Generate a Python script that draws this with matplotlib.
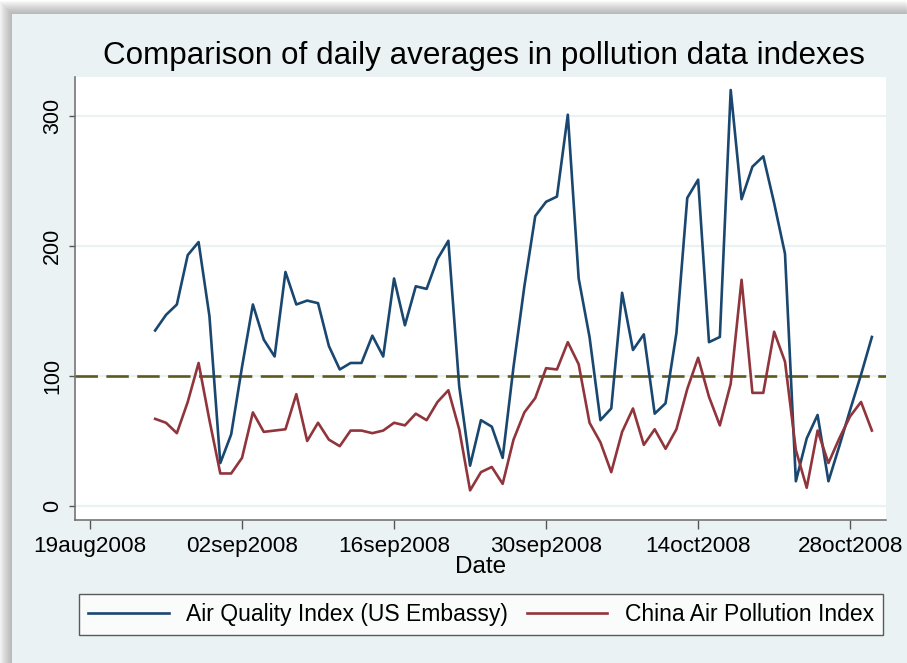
import pandas as pd
import matplotlib
matplotlib.use("Agg")
import matplotlib.pyplot as plt
from matplotlib.patches import Rectangle

plt.rcParams['font.family'] = ['Liberation Sans', 'DejaVu Sans']

# daily averages, 25aug2008 .. 30oct2008
start_date = "2008-08-25"
aqi_us_embassy = [135, 147, 155, 193, 203, 146, 33, 55, 107, 155, 128, 115, 180,
                  155, 158, 156, 123, 105, 110, 110, 131, 115, 175, 139, 169, 167,
                  190, 204, 92, 31, 66, 61, 37, 107, 169, 223, 234, 238, 301, 175,
                  130, 66, 75, 164, 120, 132, 71, 79, 133, 237, 251, 126, 130, 320,
                  236, 261, 269, 233, 194, 19, 52, 70, 19, 46, 74, 101, 130]
china_api = [67, 64, 56, 80, 110, 66, 25, 25, 37, 72, 57, 58, 59,
             86, 50, 64, 51, 46, 58, 58, 56, 58, 64, 62, 71, 66,
             80, 89, 59, 12, 26, 30, 17, 51, 72, 83, 106, 105, 126, 109,
             64, 49, 26, 57, 75, 47, 59, 44, 59, 90, 114, 84, 62, 94,
             174, 87, 87, 134, 111, 43, 14, 58, 33, 52, 69, 80, 58]
reference_level = 100

tick_dates = ["2008-08-19", "2008-09-02", "2008-09-16", "2008-09-30", "2008-10-14", "2008-10-28"]
tick_labels = ["19aug2008", "02sep2008", "16sep2008", "30sep2008", "14oct2008", "28oct2008"]
y_ticks = [0, 100, 200, 300]

dates = pd.date_range(start_date, periods=len(aqi_us_embassy), freq="D")
ticks = pd.to_datetime(tick_dates)

W, H = 907, 663
fig = plt.figure(figsize=(W / 100, H / 100), dpi=100, facecolor="white")

# soft shadow + stata-like panel
px, py = 12 / W, 14 / H
for i in range(13, 0, -1):
    fig.patches.append(Rectangle((px - i / W, 0), 1, 1 - py + i / H,
                                 transform=fig.transFigure, facecolor="#606060",
                                 alpha=0.04, edgecolor="none", zorder=-5))
fig.patches.append(Rectangle((px, 0), 1, 1 - py, transform=fig.transFigure,
                             facecolor="#eaf2f3", edgecolor="none", zorder=-4))

ax = fig.add_axes([75 / W, 1 - 520 / H, (886 - 75) / W, (520 - 77) / H])
ax.set_zorder(2)
ax.set_facecolor("white")

for y in y_ticks:
    ax.axhline(y, color="#eaf2f3", lw=1.6, zorder=1)

ax.plot(dates, aqi_us_embassy, color="#1a476f", lw=1.9, zorder=3,
        label="Air Quality Index (US Embassy)")
ax.plot(dates, china_api, color="#90353b", lw=1.9, zorder=3,
        label="China Air Pollution Index")
ax.axhline(reference_level, color="#5e5a1e", lw=1.9, ls=(0, (8.5, 3.2)), zorder=2)

ax.set_ylim(-10.8, 330)
ax.set_xlim(ticks[0] - pd.Timedelta(days=1.38), ticks[0] + pd.Timedelta(days=73.3))
ax.set_yticks(y_ticks)
ax.set_yticklabels([str(v) for v in y_ticks], rotation=90, va="center", fontsize=15.5)
ax.set_xticks(ticks)
ax.set_xticklabels(tick_labels, fontsize=16.2)
ax.tick_params(axis="y", length=4.5, width=1, color="#555555", pad=4)
ax.tick_params(axis="x", length=6.5, width=1, color="#555555", pad=5)
for s in ["top", "right"]:
    ax.spines[s].set_visible(False)
for s in ["left", "bottom"]:
    ax.spines[s].set_color("#6a6a6a")
    ax.spines[s].set_linewidth(1.1)
ax.set_xlabel("Date", fontsize=17.5, labelpad=-1)

fig.text(484 / W, 1 - 56 / H, "Comparison of daily averages in pollution data indexes",
         ha="center", va="center", fontsize=22.6)

leg = fig.legend(loc="center", bbox_to_anchor=(481 / W, 1 - 614.5 / H), ncol=2,
                 fontsize=16.5, frameon=True, fancybox=False, edgecolor="#333333",
                 handlelength=3.5, handletextpad=0.75, columnspacing=0.85,
                 borderpad=0.4, borderaxespad=0)
leg.get_frame().set_linewidth(1.0)
leg.get_frame().set_facecolor("white")

fig.savefig("out.png", dpi=100, facecolor=fig.get_facecolor())
